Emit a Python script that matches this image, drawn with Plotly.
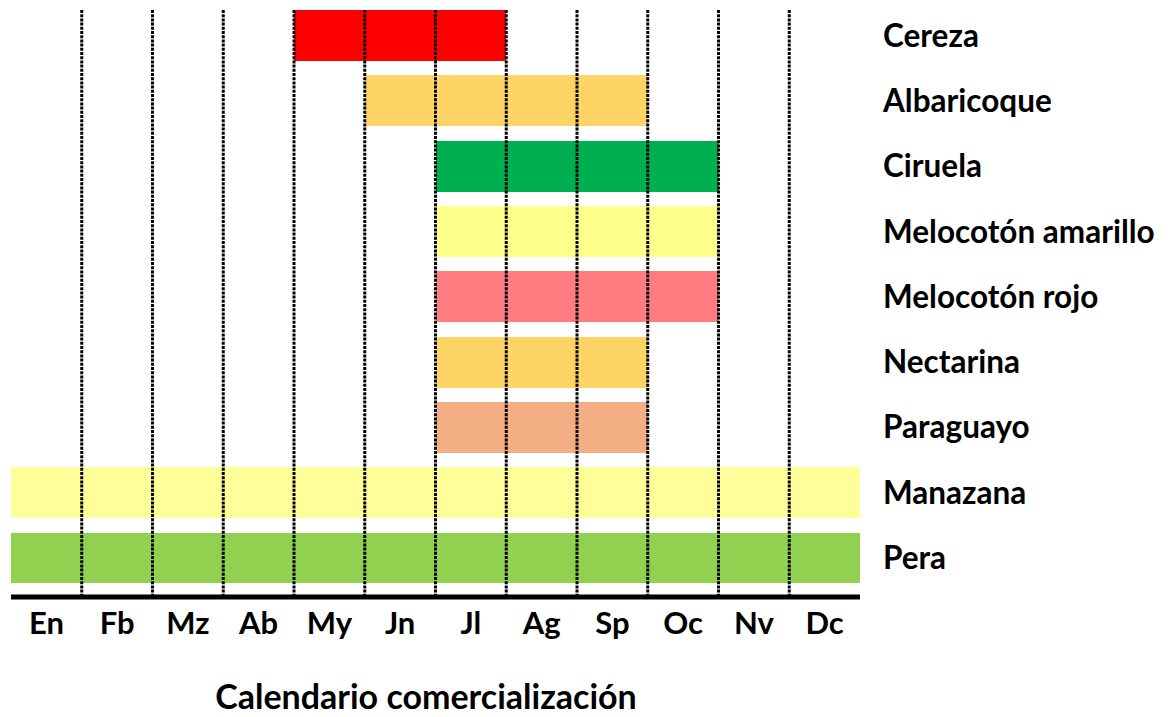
import plotly.graph_objects as go

# ---- data ----
months = ["En", "Fb", "Mz", "Ab", "My", "Jn", "Jl", "Ag", "Sp", "Oc", "Nv", "Dc"]
fruits = ["Cereza", "Albaricoque", "Ciruela", "Melocotón amarillo", "Melocotón rojo",
          "Nectarina", "Paraguayo", "Manazana", "Pera"]
start_month = [4, 5, 6, 6, 6, 6, 6, 0, 0]      # index of first month (0 = En)
end_month = [7, 9, 10, 10, 10, 9, 9, 12, 12]   # exclusive end month index
colors = ["#FF0000", "#FFD466", "#00B050", "#FFFF8C", "#FF7C80",
          "#FFD466", "#F4AE84", "#FFFF99", "#92D050"]
title_text = "Calendario comercialización"

# ---- styling / geometry ----
FONT = "Lato"
Y_TOP = -0.5
Y_BOTTOM = 8.597
LINE_TOP = -0.393

fig = go.Figure()

rows = list(range(len(fruits)))
fig.add_trace(go.Bar(
    y=rows,
    x=[e - s for s, e in zip(start_month, end_month)],
    base=start_month,
    orientation="h",
    width=0.78,
    marker=dict(color=colors, line=dict(width=0)),
    hoverinfo="skip",
    showlegend=False,
))

# dotted month separators
xs, ys = [], []
for b in range(1, len(months)):
    xs += [b, b, None]
    ys += [LINE_TOP, Y_BOTTOM, None]
fig.add_trace(go.Scatter(
    x=xs, y=ys, mode="lines",
    line=dict(color="black", width=3, dash="3px,1.2px"),
    hoverinfo="skip", showlegend=False,
))

# thick baseline
fig.add_shape(type="line", xref="x", yref="paper", x0=0, x1=len(months), y0=0, y1=0,
              line=dict(color="black", width=5), layer="above")

fig.update_layout(
    width=1168, height=717,
    margin=dict(l=11, r=308, t=3, b=120),
    paper_bgcolor="white", plot_bgcolor="white",
    bargap=0,
    font=dict(family=FONT, color="black"),
    title=dict(text="<b>" + title_text + "</b>", x=426 / 1168, xanchor="center",
               xref="container", yref="container", y=(717 - 697) / 717, yanchor="middle",
               font=dict(family=FONT, size=34, color="black")),
    xaxis=dict(range=[0, len(months)], tickvals=[i + 0.5 for i in range(len(months))],
               ticktext=["<b>" + m + "</b>" for m in months],
               showgrid=False, zeroline=False, showline=False, ticks="",
               tickfont=dict(family=FONT, size=31, color="black"),
               ticklabelstandoff=5, fixedrange=True),
    yaxis=dict(range=[Y_BOTTOM, Y_TOP], tickvals=rows,
               ticktext=["<b>" + f + "</b>" for f in fruits],
               side="right", showgrid=False, zeroline=False, showline=False, ticks="",
               tickfont=dict(family=FONT, size=31.5, color="black"),
               ticklabelstandoff=22, fixedrange=True),
)

fig.write_html("out.html", config={"displayModeBar": False},
               post_script="document.body.style.margin='0px';")
